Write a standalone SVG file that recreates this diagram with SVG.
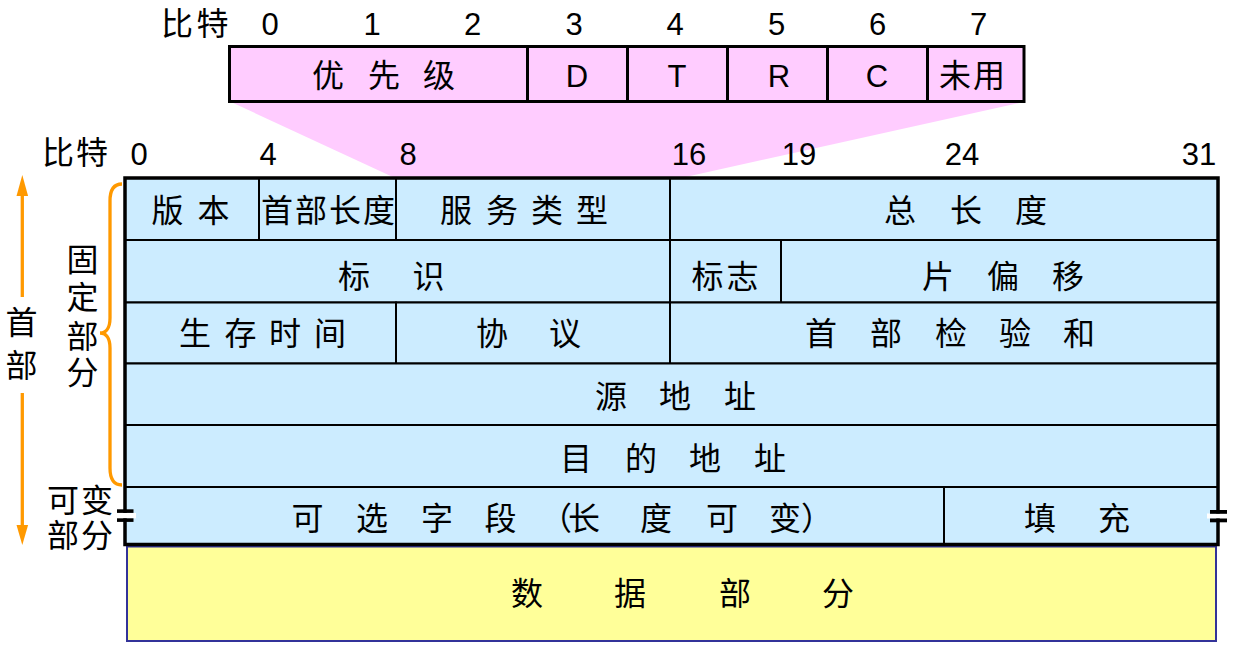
<svg xmlns="http://www.w3.org/2000/svg" width="1240" height="665" viewBox="0 0 1240 665">
<style>
  text { font-family: "Liberation Sans", "Noto Sans CJK SC", sans-serif; fill: #000; }
  .c { font-size: 32px; text-anchor: middle; }
  .n { font-size: 31px; text-anchor: middle; }
  .l { font-size: 31px; text-anchor: middle; }
  .cell { fill: #CCECFF; stroke: #000; stroke-width: 2; }
  .pk { fill: #FFCCFF; stroke: #000; stroke-width: 3; }
  .or { fill: none; stroke: #FF9900; stroke-width: 3.3; }
</style>
<rect width="1240" height="665" fill="#fff"/>

<g id="connectors">
  <polygon points="231,102 1024,102 681,178 395,178" fill="#FFCCFF"/>
  <line class="or" x1="22.3" y1="194" x2="22.3" y2="297"/>
  <polygon points="22.3,175 16.5,196 28.1,196" fill="#FF9900"/>
  <line class="or" x1="22.3" y1="393" x2="22.3" y2="526"/>
  <polygon points="16.5,525 28.1,525 22.3,545" fill="#FF9900"/>
  <path class="or" d="M122,184 C113,184 110,191 110,201 L110,318 C110,328 106,333 100,333 C106,333 110,338 110,348 L110,468 C110,478 113,485 122,485"/>
</g>

<g id="bits-top">
  <text class="c" x="177 212.5" y="35">比特</text>
  <text class="n" x="270" y="35">0</text>
  <text class="n" x="372" y="35">1</text>
  <text class="n" x="472.5" y="35">2</text>
  <text class="n" x="574" y="35">3</text>
  <text class="n" x="675" y="35">4</text>
  <text class="n" x="776.5" y="35">5</text>
  <text class="n" x="877.5" y="35">6</text>
  <text class="n" x="978.5" y="35">7</text>
</g>

<g id="tos-priority"><rect class="pk" x="229.5" y="46.5" width="298" height="55"/><text class="c" x="328 356 384 411 439" y="87">优 先 级</text></g>
<g id="tos-d"><rect class="pk" x="527.5" y="46.5" width="100" height="55"/><text class="l" x="577" y="87">D</text></g>
<g id="tos-t"><rect class="pk" x="627.5" y="46.5" width="100" height="55"/><text class="l" x="677" y="87">T</text></g>
<g id="tos-r"><rect class="pk" x="727.5" y="46.5" width="100" height="55"/><text class="l" x="779" y="87">R</text></g>
<g id="tos-c"><rect class="pk" x="827.5" y="46.5" width="100" height="55"/><text class="l" x="877" y="87">C</text></g>
<g id="tos-unused"><rect class="pk" x="927.5" y="46.5" width="96.5" height="55"/><text class="c" x="955 989" y="87">未用</text></g>

<g id="bits-main">
  <text class="c" x="58 92" y="164">比特</text>
  <text class="n" x="139" y="165">0</text>
  <text class="n" x="268" y="165">4</text>
  <text class="n" x="408" y="165">8</text>
  <text class="n" x="689" y="165">16</text>
  <text class="n" x="799" y="165">19</text>
  <text class="n" x="962" y="165">24</text>
  <text class="n" x="1199" y="165">31</text>
</g>

<g id="labels-left">
  <text class="c" x="21.5" y="334">首</text>
  <text class="c" x="21.5" y="377">部</text>
  <text class="c" x="82.5" y="271">固</text>
  <text class="c" x="82.5" y="309">定</text>
  <text class="c" x="82.5" y="348">部</text>
  <text class="c" x="82.5" y="384">分</text>
  <text class="c" x="63 97" y="512">可变</text>
  <text class="c" x="63 97" y="547">部分</text>
</g>

<g id="version"><rect class="cell" x="125" y="178" width="134" height="62"/><text class="c" x="167.5 190 213.5" y="222">版 本</text></g>
<g id="ihl"><rect class="cell" x="259" y="178" width="137" height="62"/><text class="c" x="277 311 345 379" y="222">首部长度</text></g>
<g id="tos"><rect class="cell" x="396" y="178" width="274" height="62"/><text class="c" x="456 479 502 524 547 570 592" y="222">服 务 类 型</text></g>
<g id="total-length"><rect class="cell" x="670" y="178" width="548" height="62"/><text class="c" x="900 933 966 998 1031" y="222">总 长 度</text></g>

<g id="identification"><rect class="cell" x="125" y="240" width="545" height="62.5"/><text class="c" x="354 391 428.5" y="288">标 识</text></g>
<g id="flags"><rect class="cell" x="670" y="240" width="111" height="62.5"/><text class="c" x="707.5 742.5" y="288">标志</text></g>
<g id="fragment-offset"><rect class="cell" x="781" y="240" width="437" height="62.5"/><text class="c" x="938 970 1003 1035 1068" y="288">片 偏 移</text></g>

<g id="ttl"><rect class="cell" x="125" y="302.5" width="271" height="61"/><text class="c" x="195 218 240.5 263 285 307 330" y="345">生 存 时 间</text></g>
<g id="protocol"><rect class="cell" x="396" y="302.5" width="274" height="61"/><text class="c" x="492 528 565" y="345">协 议</text></g>
<g id="checksum"><rect class="cell" x="670" y="302.5" width="548" height="61"/><text class="c" x="821 853 886 918 951 983 1015 1047 1079" y="345">首 部 检 验 和</text></g>

<g id="source-address"><rect class="cell" x="125" y="363.5" width="1093" height="61.5"/><text class="c" x="611 643 675 707 740" y="408">源 地 址</text></g>
<g id="destination-address"><rect class="cell" x="125" y="425" width="1093" height="62"/><text class="c" x="576 608 641 673 705 737 770" y="470">目 的 地 址</text></g>

<g id="options"><rect class="cell" x="125" y="487" width="819" height="57.5"/><text class="c" x="307.5 340 372 404 437 469 500.5 528 556 584 620 656 689 722 754 785 817" y="530">可 选 字 段 （长 度 可 变）</text></g>
<g id="padding"><rect class="cell" x="944" y="487" width="274" height="57.5"/><text class="c" x="1040 1077 1114" y="530">填 充</text></g>

<g id="data"><rect x="127" y="546.5" width="1089" height="94.5" fill="#FFFF99" stroke="#333399" stroke-width="2"/><text class="c" x="527 578 630 682 735 786 838" y="605">数 据 部 分</text></g>

<g id="frame">
  <rect x="125" y="178" width="1093" height="366.5" fill="none" stroke="#000" stroke-width="3.5"/>
  <rect x="114" y="513" width="22" height="5.3" fill="#fff"/>
  <rect x="117" y="509.3" width="16.5" height="3.6" fill="#000"/>
  <rect x="117" y="518.3" width="16.5" height="3.6" fill="#000"/>
  <rect x="1207" y="513.5" width="22" height="5" fill="#fff"/>
  <rect x="1210" y="510" width="17" height="3.8" fill="#000"/>
  <rect x="1210" y="518.5" width="17" height="3.8" fill="#000"/>
</g>
</svg>
